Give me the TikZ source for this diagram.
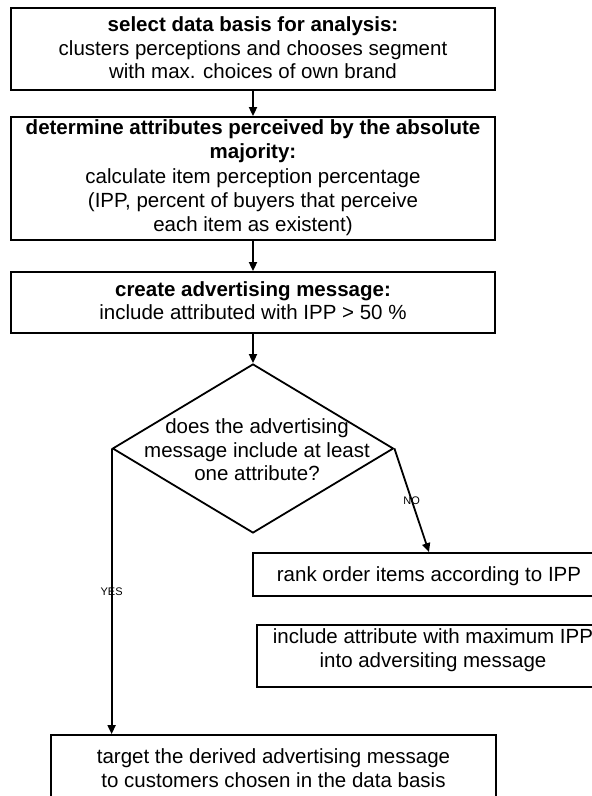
\documentclass[tikz,border=0pt]{standalone}
\usepackage{fontspec}
\setmainfont{Liberation Sans}
\usetikzlibrary{shapes.geometric,arrows.meta}
\newcommand{\boxfont}{\fontsize{20.5}{23.5}\selectfont}
\newcommand{\widefont}{\fontsize{20.5}{24.25}\selectfont}
\newcommand{\tagfont}{\fontsize{11}{13}\selectfont}

\begin{document}
\begin{tikzpicture}[x=1pt,y=-1pt,
  stepbox/.style n args={3}{draw,line width=1.8pt,align=center,font=\boxfont,
    inner sep=0pt,anchor=base,minimum width=#1,text height=#2,text depth=#3},
  decision/.style={diamond,draw,line width=1.8pt,inner sep=0pt,
    minimum width=281pt,minimum height=169pt},
  flow/.style={-{Triangle[length=9pt,width=8pt]},line width=1.8pt},
  tag/.style={font=\tagfont,inner sep=0pt}]

 \useasboundingbox (0,0) rectangle (592,796);
 \clip (0,0) rectangle (592,796);

   \node[stepbox={484pt}{70.5pt}{11.5pt}] (select) at (253,78.5)
     {\textbf{select data basis for analysis:}\\clusters perceptions and chooses segment\\with max. choices of own brand};
   \node[stepbox={484pt}{114.5pt}{8.5pt},font=\widefont] (majority) at (253,231.5)
     {\textbf{determine attributes perceived by the absolute}\\\textbf{majority:}\\calculate item perception percentage\\(IPP, percent of buyers that perceive\\each item as existent)};
   \node[stepbox={484pt}{47.5pt}{13.5pt}] (message) at (253,319.5)
     {\textbf{create advertising message:}\\include attributed with IPP > 50 \%};
   \node[decision] (check) at (253,448.5) {};
   \node[font=\boxfont,align=center] (question) at (257,450)
     {does the advertising\\message include at least\\one attribute?};
   \node[stepbox={352pt}{28.5pt}{14.5pt}] (rank) at (429,581.5) {rank order items according to IPP};
   \node[stepbox={352pt}{42pt}{20pt}] (include) at (433,667)
     {include attribute with maximum IPP\\into adversiting message};
   \node[stepbox={445pt}{52pt}{15pt}] (target) at (273.5,787)
     {target the derived advertising message\\to customers chosen in the data basis};

   \draw[flow] (select) -- (majority);
   \draw[flow] (majority) -- (message);
   \draw[flow] (message) -- (check);
   \draw[flow] (check.east) -- node[tag] {NO} (rank.north);
   \draw[flow] (check.west) -- node[tag] {YES} (check.west |- target.north);

\end{tikzpicture}
\end{document}
